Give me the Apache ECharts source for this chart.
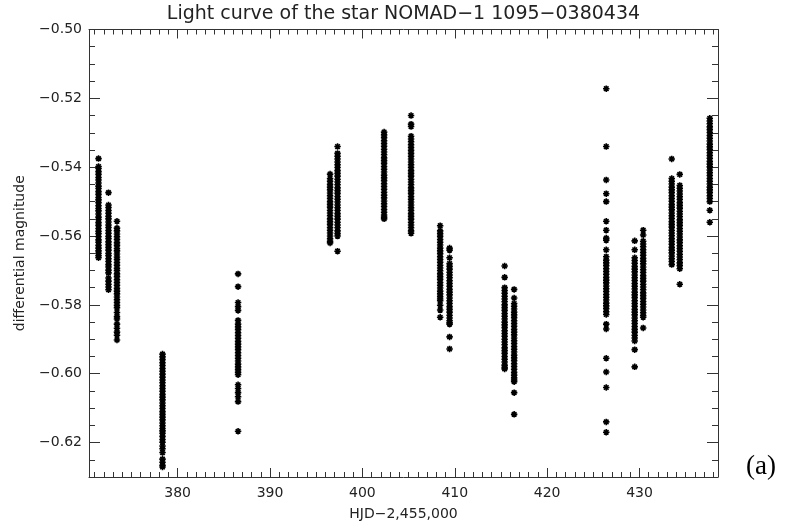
<!DOCTYPE html>
<html>
<head>
<meta charset="utf-8">
<script src="https://cdn.jsdelivr.net/npm/echarts@6/dist/echarts.min.js"></script>
<style>html,body{margin:0;padding:0;background:#fff}#c{width:785px;height:529px}</style>
</head>
<body>
<div id="c"></div>
<script>
// Mid-night HJD-2,455,000 of each observing night
const nightHJD = [371.43,372.51,373.43,378.36,386.54,396.50,397.31,402.35,405.27,408.42,409.44,415.40,416.43,426.40,429.48,430.40,433.49,434.36,437.61];
// Differential magnitudes read from each night's column
const night01 = [-0.5375,-0.5398,-0.5404,-0.5413,-0.5421,-0.5430,-0.5437,-0.5446,-0.5455,-0.5462,-0.5471,-0.5479,-0.5488,-0.5495,-0.5503,-0.5512,-0.5520,-0.5527,-0.5536,-0.5545,-0.5552,-0.5561,-0.5569,-0.5578,-0.5586,-0.5593,-0.5602,-0.5611,-0.5618,-0.5627,-0.5635,-0.5643,-0.5650,-0.5657,-0.5663];
const night02 = [-0.5474,-0.5510,-0.5517,-0.5526,-0.5534,-0.5543,-0.5550,-0.5559,-0.5568,-0.5575,-0.5584,-0.5592,-0.5601,-0.5608,-0.5617,-0.5625,-0.5633,-0.5641,-0.5650,-0.5657,-0.5666,-0.5674,-0.5683,-0.5690,-0.5699,-0.5707,-0.5722,-0.5731,-0.5740,-0.5748,-0.5756];
const night03 = [-0.5557,-0.5577,-0.5585,-0.5594,-0.5602,-0.5610,-0.5619,-0.5627,-0.5636,-0.5643,-0.5652,-0.5661,-0.5668,-0.5677,-0.5685,-0.5694,-0.5701,-0.5710,-0.5718,-0.5727,-0.5735,-0.5743,-0.5752,-0.5760,-0.5768,-0.5777,-0.5785,-0.5793,-0.5801,-0.5808,-0.5822,-0.5834,-0.5841,-0.5856,-0.5868,-0.5879,-0.5888,-0.5902];
const night04 = [-0.5943,-0.5951,-0.5959,-0.5968,-0.5976,-0.5985,-0.5993,-0.6001,-0.6010,-0.6018,-0.6026,-0.6035,-0.6043,-0.6051,-0.6060,-0.6068,-0.6076,-0.6085,-0.6093,-0.6101,-0.6110,-0.6118,-0.6126,-0.6134,-0.6143,-0.6151,-0.6159,-0.6166,-0.6173,-0.6182,-0.6191,-0.6199,-0.6210,-0.6218,-0.6229,-0.6248,-0.6257,-0.6266,-0.6271];
const night05 = [-0.5710,-0.5747,-0.5793,-0.5805,-0.5816,-0.5845,-0.5856,-0.5864,-0.5872,-0.5881,-0.5889,-0.5897,-0.5906,-0.5914,-0.5922,-0.5930,-0.5939,-0.5947,-0.5955,-0.5963,-0.5972,-0.5980,-0.5988,-0.5996,-0.6003,-0.6032,-0.6043,-0.6055,-0.6067,-0.6081,-0.6167];
const night06 = [-0.5420,-0.5433,-0.5441,-0.5450,-0.5458,-0.5466,-0.5475,-0.5483,-0.5491,-0.5500,-0.5508,-0.5516,-0.5525,-0.5533,-0.5541,-0.5550,-0.5558,-0.5566,-0.5575,-0.5583,-0.5591,-0.5600,-0.5608,-0.5615,-0.5620];
const night07 = [-0.5340,-0.5360,-0.5368,-0.5376,-0.5385,-0.5393,-0.5401,-0.5410,-0.5418,-0.5426,-0.5435,-0.5443,-0.5451,-0.5460,-0.5468,-0.5476,-0.5485,-0.5493,-0.5501,-0.5510,-0.5518,-0.5526,-0.5535,-0.5543,-0.5551,-0.5560,-0.5568,-0.5576,-0.5585,-0.5593,-0.5600,-0.5644];
const night08 = [-0.5298,-0.5306,-0.5314,-0.5323,-0.5331,-0.5339,-0.5348,-0.5356,-0.5364,-0.5373,-0.5381,-0.5389,-0.5398,-0.5406,-0.5414,-0.5423,-0.5431,-0.5439,-0.5448,-0.5456,-0.5464,-0.5473,-0.5481,-0.5489,-0.5498,-0.5506,-0.5514,-0.5523,-0.5531,-0.5539,-0.5545,-0.5550];
const night09 = [-0.5250,-0.5275,-0.5282,-0.5310,-0.5318,-0.5326,-0.5335,-0.5343,-0.5351,-0.5360,-0.5368,-0.5376,-0.5385,-0.5393,-0.5401,-0.5410,-0.5418,-0.5426,-0.5435,-0.5443,-0.5451,-0.5460,-0.5468,-0.5476,-0.5485,-0.5493,-0.5501,-0.5510,-0.5518,-0.5526,-0.5535,-0.5543,-0.5551,-0.5560,-0.5568,-0.5576,-0.5585,-0.5592];
const night10 = [-0.5570,-0.5585,-0.5593,-0.5601,-0.5610,-0.5618,-0.5626,-0.5635,-0.5643,-0.5651,-0.5660,-0.5668,-0.5676,-0.5685,-0.5693,-0.5701,-0.5710,-0.5718,-0.5726,-0.5735,-0.5743,-0.5751,-0.5760,-0.5768,-0.5776,-0.5783,-0.5788,-0.5801,-0.5815,-0.5836];
const night11 = [-0.5635,-0.5641,-0.5663,-0.5680,-0.5688,-0.5696,-0.5705,-0.5713,-0.5721,-0.5730,-0.5738,-0.5746,-0.5755,-0.5763,-0.5771,-0.5780,-0.5788,-0.5796,-0.5805,-0.5813,-0.5821,-0.5830,-0.5838,-0.5846,-0.5852,-0.5856,-0.5893,-0.5928];
const night12 = [-0.5687,-0.5720,-0.5750,-0.5758,-0.5766,-0.5775,-0.5783,-0.5791,-0.5800,-0.5808,-0.5816,-0.5825,-0.5833,-0.5841,-0.5850,-0.5858,-0.5866,-0.5875,-0.5883,-0.5891,-0.5900,-0.5908,-0.5916,-0.5925,-0.5933,-0.5941,-0.5950,-0.5958,-0.5966,-0.5975,-0.5981,-0.5986];
const night13 = [-0.5755,-0.5780,-0.5796,-0.5804,-0.5812,-0.5821,-0.5829,-0.5837,-0.5846,-0.5854,-0.5862,-0.5871,-0.5879,-0.5887,-0.5896,-0.5904,-0.5912,-0.5921,-0.5929,-0.5937,-0.5946,-0.5954,-0.5962,-0.5971,-0.5979,-0.5987,-0.5996,-0.6004,-0.6012,-0.6018,-0.6023,-0.6055,-0.6118];
const night14 = [-0.5172,-0.5340,-0.5437,-0.5477,-0.5500,-0.5557,-0.5583,-0.5606,-0.5612,-0.5640,-0.5660,-0.5670,-0.5678,-0.5686,-0.5695,-0.5703,-0.5711,-0.5720,-0.5728,-0.5736,-0.5745,-0.5753,-0.5761,-0.5770,-0.5778,-0.5786,-0.5795,-0.5803,-0.5811,-0.5820,-0.5828,-0.5856,-0.5870,-0.5955,-0.5995,-0.6040,-0.6140,-0.6170];
const night15 = [-0.5614,-0.5640,-0.5663,-0.5671,-0.5679,-0.5688,-0.5696,-0.5704,-0.5713,-0.5721,-0.5729,-0.5738,-0.5746,-0.5754,-0.5763,-0.5771,-0.5779,-0.5788,-0.5796,-0.5804,-0.5813,-0.5821,-0.5829,-0.5838,-0.5846,-0.5854,-0.5863,-0.5871,-0.5879,-0.5888,-0.5896,-0.5905,-0.5930,-0.5980];
const night16 = [-0.5583,-0.5597,-0.5615,-0.5623,-0.5631,-0.5640,-0.5648,-0.5656,-0.5665,-0.5673,-0.5681,-0.5690,-0.5698,-0.5706,-0.5715,-0.5723,-0.5731,-0.5740,-0.5748,-0.5756,-0.5765,-0.5773,-0.5781,-0.5790,-0.5798,-0.5806,-0.5815,-0.5823,-0.5831,-0.5836,-0.5867];
const night17 = [-0.5376,-0.5433,-0.5441,-0.5449,-0.5458,-0.5466,-0.5474,-0.5483,-0.5491,-0.5499,-0.5508,-0.5516,-0.5524,-0.5533,-0.5541,-0.5549,-0.5558,-0.5566,-0.5574,-0.5583,-0.5591,-0.5599,-0.5608,-0.5616,-0.5624,-0.5633,-0.5641,-0.5649,-0.5658,-0.5666,-0.5674,-0.5683];
const night18 = [-0.5421,-0.5453,-0.5461,-0.5469,-0.5478,-0.5486,-0.5494,-0.5503,-0.5511,-0.5519,-0.5528,-0.5536,-0.5544,-0.5553,-0.5561,-0.5569,-0.5578,-0.5586,-0.5594,-0.5603,-0.5611,-0.5619,-0.5628,-0.5636,-0.5644,-0.5653,-0.5661,-0.5669,-0.5678,-0.5686,-0.5695,-0.5740];
const night19 = [-0.5258,-0.5266,-0.5274,-0.5283,-0.5291,-0.5299,-0.5308,-0.5316,-0.5324,-0.5333,-0.5341,-0.5349,-0.5358,-0.5366,-0.5374,-0.5383,-0.5391,-0.5399,-0.5408,-0.5416,-0.5424,-0.5433,-0.5441,-0.5449,-0.5458,-0.5466,-0.5474,-0.5483,-0.5491,-0.5500,-0.5525,-0.5560];

// Axis ticks and labels
const xMajorTicks = [380, 390, 400, 410, 420, 430];
const yMajorTicks = [-0.62, -0.60, -0.58, -0.56, -0.54, -0.52, -0.50];
const xRange = [370.4, 438.5];
const yRange = [-0.630, -0.500];
const titleText = 'Light curve of the star NOMAD\u22121 1095\u22120380434';
const xName = 'HJD\u22122,455,000';
const yName = 'differential magnitude';

const xMinorTicks = [];
for (let v = 371; v <= 438; v++) xMinorTicks.push(v);
const yMinorTicks = [];
for (let k = -125; k <= -101; k++) yMinorTicks.push(k * 0.005);

const nights = [night01,night02,night03,night04,night05,night06,night07,night08,night09,night10,night11,night12,night13,night14,night15,night16,night17,night18,night19];
const points = [];
nights.forEach((mags, i) => mags.forEach(m => points.push([nightHJD[i], m])));

const FONT = 'DejaVu Sans';
const INK = '#222';
const lineStyle = { color: '#333', width: 1 };

function xAx(pos, ticks, len, showLine, showLabel) {
  return {
    type: 'value', position: pos, min: xRange[0], max: xRange[1],
    splitLine: { show: false },
    axisLine: { show: showLine, onZero: false, lineStyle },
    axisTick: { show: true, inside: true, length: len, customValues: ticks, lineStyle },
    axisLabel: { show: showLabel, customValues: ticks, fontFamily: FONT, fontSize: 14, color: INK, margin: 9,
      formatter: v => String(Math.round(v)) }
  };
}
function yAx(pos, ticks, len, showLine, showLabel) {
  return {
    type: 'value', position: pos, min: yRange[0], max: yRange[1],
    splitLine: { show: false },
    axisLine: { show: showLine, onZero: false, lineStyle },
    axisTick: { show: true, inside: true, length: len, customValues: ticks, lineStyle },
    axisLabel: { show: showLabel, customValues: ticks, fontFamily: FONT, fontSize: 14, color: INK, margin: 7,
      formatter: v => v.toFixed(2).replace('-', '\u2212') }
  };
}

const xMain = xAx('bottom', xMajorTicks, 9, true, true);
xMain.name = xName;
xMain.nameLocation = 'middle';
xMain.nameGap = 30;
xMain.nameTextStyle = { fontFamily: FONT, fontSize: 14, color: INK };
const yMain = yAx('left', yMajorTicks, 11, true, true);
yMain.name = yName;
yMain.nameLocation = 'middle';
yMain.nameGap = 62;
yMain.nameTextStyle = { fontFamily: FONT, fontSize: 14, color: INK };

const chart = echarts.init(document.getElementById('c'), null, { renderer: 'canvas' });
chart.setOption({
  animation: false,
  backgroundColor: '#fff',
  grid: { left: 89, right: 67, top: 29.5, bottom: 52, containLabel: false },
  xAxis: [
    xMain,
    xAx('bottom', xMinorTicks, 5, false, false),
    xAx('top', xMajorTicks, 9, true, false),
    xAx('top', xMinorTicks, 5, false, false)
  ],
  yAxis: [
    yMain,
    yAx('left', yMinorTicks, 6, false, false),
    yAx('right', yMajorTicks, 11, true, false),
    yAx('right', yMinorTicks, 6, false, false)
  ],
  graphic: [
    { type: 'text', x: 403.5, y: 14, style: { text: titleText, fontFamily: FONT, fontSize: 19, fill: INK, align: 'center', verticalAlign: 'middle' } },
    { type: 'text', x: 761, y: 467, style: { text: '(a)', fontFamily: 'Liberation Serif', fontSize: 27, fill: '#000', align: 'center', verticalAlign: 'middle' } }
  ],
  series: [{
    type: 'scatter', xAxisIndex: 0, yAxisIndex: 0,
    data: points,
    symbol: 'path://M5 0V10M0 5H10M1.5 1.5L8.5 8.5M8.5 1.5L1.5 8.5',
    symbolSize: 6.5,
    itemStyle: { color: '#000', borderColor: '#000', borderWidth: 1.6, opacity: 1 },
    emphasis: { disabled: true }
  }]
});
</script>
</body>
</html>
